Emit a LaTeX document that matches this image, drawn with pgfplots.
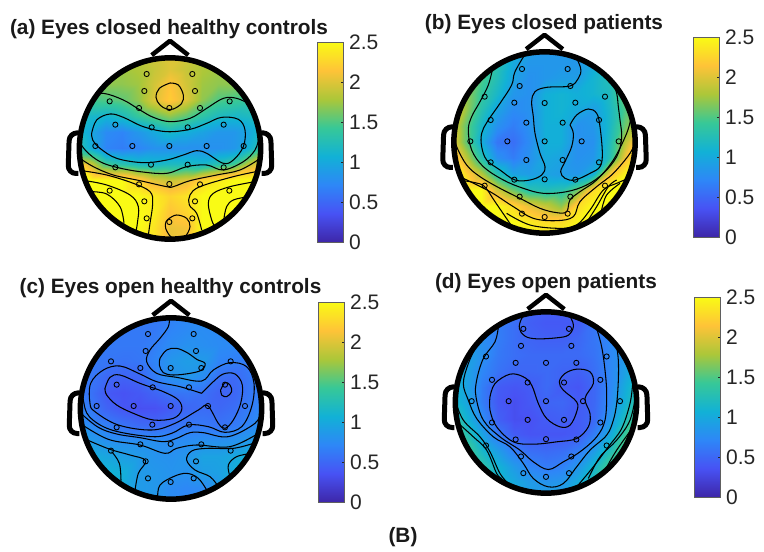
\documentclass[border=0pt]{standalone}
\usepackage{fontspec}
\setmainfont{Liberation Sans}
\usepackage{pgfplots}
\usepackage{pgfplotstable}
\pgfplotsset{compat=1.18}
\pgfplotsset{colormap={parula}{
 rgb(0)=(0.2422,0.1504,0.6603) rgb(1)=(0.2810,0.3228,0.9579) rgb(2)=(0.1786,0.5289,0.9682)
 rgb(3)=(0.0689,0.6948,0.8394) rgb(4)=(0.2161,0.7843,0.5923) rgb(5)=(0.6720,0.7793,0.2227)
 rgb(6)=(0.9970,0.7659,0.2199) rgb(7)=(0.9769,0.9839,0.0805)}}
\definecolor{tk}{RGB}{38,38,38}
\definecolor{bx}{RGB}{95,95,95}
\pgfplotstableread[row sep=\\,header=false]{
1.8\\1.8\\1.8\\1.8\\1.85\\1.95\\2.0\\1.95\\1.85\\1.8\\1.8\\1.8\\1.8\\
1.75\\1.75\\1.75\\1.75\\1.8\\1.9\\2.0\\1.9\\1.8\\1.75\\1.75\\1.75\\1.75\\
1.7\\1.7\\1.7\\1.7\\1.75\\1.95\\2.15\\1.95\\1.75\\1.7\\1.7\\1.7\\1.7\\
1.45\\1.45\\1.5\\1.55\\1.7\\2.0\\2.2\\2.0\\1.7\\1.5\\1.45\\1.4\\1.4\\
1.2\\1.15\\1.1\\1.2\\1.4\\1.55\\1.7\\1.55\\1.35\\1.2\\1.15\\1.2\\1.3\\
1.2\\1.0\\0.75\\0.7\\0.85\\1.0\\1.15\\1.05\\0.95\\0.85\\0.85\\1.0\\1.3\\
1.4\\1.05\\0.7\\0.65\\0.7\\0.8\\0.8\\0.8\\0.8\\0.8\\0.85\\1.1\\1.5\\
2.1\\1.95\\1.45\\1.3\\1.2\\1.15\\1.2\\1.2\\1.15\\1.3\\1.45\\1.9\\2.2\\
2.6\\2.55\\2.55\\2.5\\2.25\\2.0\\1.9\\2.0\\2.25\\2.4\\2.55\\2.6\\2.7\\
3.0\\3.0\\2.9\\2.8\\2.7\\2.4\\2.25\\2.35\\2.65\\2.8\\2.9\\3.0\\3.0\\
3.0\\3.0\\3.0\\2.9\\2.8\\2.42\\2.15\\2.25\\2.6\\2.9\\3.0\\3.0\\3.0\\
3.0\\3.0\\3.0\\2.9\\2.7\\2.35\\2.05\\2.1\\2.5\\2.9\\3.0\\3.0\\3.0\\
3.0\\3.0\\3.0\\2.9\\2.7\\2.35\\2.05\\2.1\\2.5\\2.9\\3.0\\3.0\\3.0\\
}\fieldA
\pgfplotstableread[row sep=\\,header=false]{
1.3\\1.3\\1.3\\1.25\\1.1\\0.95\\0.85\\0.85\\0.9\\1.1\\1.25\\1.3\\1.3\\
1.6\\1.6\\1.5\\1.3\\1.0\\0.85\\0.85\\0.85\\0.85\\1.0\\1.2\\1.5\\1.6\\
1.8\\1.7\\1.5\\1.25\\0.95\\0.8\\0.85\\0.9\\0.9\\1.1\\1.25\\1.6\\1.8\\
1.9\\1.75\\1.4\\1.15\\0.85\\0.8\\1.05\\1.1\\1.05\\1.1\\1.2\\1.6\\1.8\\
2.1\\1.75\\1.3\\0.95\\0.75\\0.8\\1.05\\1.1\\1.0\\0.9\\1.15\\1.5\\1.8\\
2.1\\1.6\\1.15\\0.8\\0.65\\0.8\\1.05\\1.05\\0.8\\0.85\\1.15\\1.6\\2.0\\
2.2\\1.6\\1.05\\0.6\\0.55\\0.75\\1.05\\1.05\\0.8\\0.8\\1.2\\1.85\\2.45\\
2.5\\1.9\\1.3\\0.8\\0.65\\0.8\\1.0\\0.95\\0.8\\0.85\\1.25\\2.1\\2.6\\
2.6\\2.3\\1.85\\1.3\\0.95\\0.9\\0.95\\0.9\\0.85\\1.05\\2.1\\2.45\\2.6\\
2.7\\2.6\\2.55\\1.95\\1.6\\1.3\\1.25\\1.3\\1.6\\2.3\\2.55\\2.7\\2.7\\
2.7\\2.7\\2.7\\2.6\\2.3\\2.05\\1.9\\1.7\\2.3\\2.6\\2.7\\2.7\\2.7\\
2.7\\2.7\\2.7\\2.7\\2.55\\2.4\\2.3\\2.3\\2.45\\2.7\\2.7\\2.7\\2.7\\
2.7\\2.7\\2.7\\2.7\\2.7\\2.7\\2.7\\2.7\\2.7\\2.7\\2.7\\2.7\\2.7\\
}\fieldB
\pgfplotstableread[row sep=\\,header=false]{
0.62\\0.62\\0.62\\0.62\\0.62\\0.62\\0.66\\0.72\\0.74\\0.72\\0.70\\0.68\\0.65\\
0.62\\0.62\\0.62\\0.62\\0.62\\0.62\\0.70\\0.74\\0.76\\0.74\\0.72\\0.70\\0.68\\
0.62\\0.62\\0.62\\0.62\\0.62\\0.66\\0.75\\0.80\\0.78\\0.75\\0.73\\0.72\\0.70\\
0.62\\0.62\\0.60\\0.58\\0.60\\0.70\\0.85\\0.90\\0.88\\0.70\\0.66\\0.66\\0.70\\
0.62\\0.60\\0.50\\0.47\\0.50\\0.65\\0.80\\0.85\\0.76\\0.56\\0.52\\0.62\\0.72\\
0.66\\0.57\\0.40\\0.36\\0.40\\0.48\\0.58\\0.60\\0.56\\0.47\\0.50\\0.62\\0.72\\
0.73\\0.62\\0.47\\0.38\\0.34\\0.35\\0.42\\0.50\\0.53\\0.50\\0.55\\0.65\\0.78\\
0.82\\0.72\\0.66\\0.58\\0.52\\0.50\\0.56\\0.62\\0.62\\0.58\\0.63\\0.72\\0.84\\
0.93\\0.88\\0.80\\0.78\\0.78\\0.78\\0.75\\0.77\\0.80\\0.80\\0.82\\0.88\\0.95\\
1.05\\1.05\\0.98\\0.92\\0.88\\0.82\\0.80\\0.84\\0.95\\0.95\\1.0\\1.1\\1.15\\
1.1\\1.1\\1.1\\1.05\\0.88\\0.85\\0.82\\0.80\\0.90\\0.93\\1.05\\1.2\\1.25\\
1.1\\1.1\\1.1\\1.02\\0.88\\0.85\\0.75\\0.72\\0.74\\0.9\\0.95\\1.1\\1.1\\
1.1\\1.1\\1.1\\1.0\\0.88\\0.85\\0.75\\0.72\\0.75\\0.9\\0.95\\1.0\\1.0\\
}\fieldC
\pgfplotstableread[row sep=\\,header=false]{
0.95\\0.9\\0.8\\0.7\\0.6\\0.5\\0.44\\0.44\\0.48\\0.6\\0.7\\0.85\\0.95\\
0.95\\0.9\\0.78\\0.66\\0.55\\0.44\\0.40\\0.40\\0.42\\0.6\\0.72\\0.85\\0.95\\
1.05\\0.9\\0.78\\0.65\\0.55\\0.48\\0.45\\0.45\\0.50\\0.6\\0.72\\0.86\\0.98\\
1.1\\0.95\\0.8\\0.62\\0.55\\0.52\\0.52\\0.52\\0.52\\0.58\\0.72\\0.88\\1.05\\
1.1\\0.95\\0.72\\0.58\\0.50\\0.50\\0.52\\0.48\\0.45\\0.55\\0.72\\0.95\\1.2\\
1.15\\0.95\\0.65\\0.42\\0.38\\0.42\\0.52\\0.42\\0.38\\0.50\\0.72\\1.05\\1.35\\
1.2\\0.98\\0.65\\0.40\\0.33\\0.40\\0.48\\0.50\\0.42\\0.50\\0.75\\1.1\\1.45\\
1.4\\1.1\\0.75\\0.45\\0.33\\0.35\\0.42\\0.45\\0.42\\0.52\\0.85\\1.25\\1.6\\
1.55\\1.3\\0.95\\0.62\\0.42\\0.37\\0.38\\0.38\\0.42\\0.65\\1.0\\1.45\\1.7\\
1.7\\1.5\\1.15\\0.9\\0.65\\0.55\\0.52\\0.55\\0.65\\0.9\\1.25\\1.6\\1.8\\
1.7\\1.6\\1.35\\1.1\\0.88\\0.7\\0.64\\0.68\\0.85\\1.15\\1.5\\1.7\\1.8\\
1.6\\1.5\\1.3\\1.15\\1.0\\0.88\\0.82\\0.85\\1.02\\1.25\\1.45\\1.6\\1.6\\
1.5\\1.4\\1.25\\1.1\\1.0\\0.95\\0.95\\0.95\\1.05\\1.2\\1.35\\1.45\\1.5\\
}\fieldD
\pgfplotsset{headaxis/.style n args={4}{
  at={(#1pt,552pt-#2pt)},anchor=center,scale only axis,width=230pt,height=230pt,
  xmin=#3-345,xmax=#3+345,ymin=#4-345,ymax=#4+345,y dir=reverse,
  hide axis,clip=false,colormap name=parula,point meta min=0,point meta max=2.5},
 baraxis/.style 2 args={at={(#1pt,552pt-#2pt)},anchor=south west,scale only axis,width=26pt,height=200pt,
  xmin=0,xmax=1,ymin=0,ymax=2.5,xtick=\empty,
  colormap name=parula,point meta min=0,point meta max=2.5,
  ytick={0,0.5,1,1.5,2,2.5},yticklabels={0,0.5,1,1.5,2,2.5},
  yticklabel pos=right,ytick pos=right,tick align=inside,major tick length=2.5pt,
  tick style={color=tk,line width=.5pt},axis line style={color=bx,line width=.7pt},axis on top,
  yticklabel style={font=\fontsize{21}{22}\selectfont,text=tk,inner sep=0pt,xshift=6pt}}}
\newcommand\cbar[2]{\begin{axis}[baraxis={#1}{#2}]
 \addplot[surf,shader=interp,mesh/cols=2,point meta=y,forget plot] coordinates {(0,0)(1,0)(0,2.5)(1,2.5)};
 \end{axis}}
\newcommand\field[3]{\addplot[surf,shader=interp,mesh/cols=13,point meta=explicit,forget plot]
  table[x index=0,y index=0,x expr={mod(\coordindex,13)*48+#1},y expr={floor(\coordindex/13)*48+#2},meta index=0]{#3};}
\newcommand\shell[2]{%
 \fill[white,even odd rule] (axis cs:#1-292,#2-292) rectangle (axis cs:#1+292,#2+292) (axis cs:#1,#2) circle[radius=272];
 \draw[line width=4.5pt,join=round] (axis cs:#1-55,#2-280) -- (axis cs:#1,#2-323) -- (axis cs:#1+55,#2-280);
 \draw[line width=5pt,rounded corners=8pt] (axis cs:#1-275,#2-47) -- (axis cs:#1-302,#2-47) -- (axis cs:#1-306,#2+75) -- (axis cs:#1-275,#2+75);
 \draw[line width=5pt,rounded corners=8pt] (axis cs:#1+275,#2-47) -- (axis cs:#1+302,#2-47) -- (axis cs:#1+306,#2+75) -- (axis cs:#1+275,#2+75);
 \draw[line width=5.5pt] (axis cs:#1,#2) circle[radius=272];}
\pgfplotsset{cl/.style={black,line width=1.05pt,smooth,tension=0.6,no markers,forget plot},
 el/.style={only marks,mark=o,mark size=2.6pt,mark options={black,line width=.85pt},forget plot}}
\begin{document}
\begin{tikzpicture}[x=1pt,y=1pt]
\useasboundingbox (0,0) rectangle (764,552);
% ---------- (a)
\begin{axis}[headaxis={170}{148.5}{510}{415.5}]
\field{222}{127.5}{\fieldA}
\addplot[cl] coordinates {(510,219)(535,225)(550,255)(545,280)(520,297)(500,297)(480,285)(468,262)(478,235)(510,219)};
\addplot[cl] coordinates {(262,258)(310,250)(370,270)(420,300)(460,322)(510,335)(570,325)(620,295)(670,265)(710,265)(755,285)};
\addplot[cl] coordinates {(275,370)(290,330)(330,312)(370,322)(430,350)(500,365)(570,358)(620,340)(665,322)(715,328)(735,360)(730,410)(700,450)(670,460)(620,430)(590,422)(550,435)(500,450)(430,458)(350,445)(300,415)(278,390)(275,370)};
\addplot[cl] coordinates {(238,395)(260,425)(300,455)(350,472)(420,485)(500,490)(560,470)(620,465)(670,480)(730,455)(765,420)(778,380)};
\addplot[cl] coordinates {(240,445)(280,470)(340,495)(420,512)(500,530)(520,530)(570,512)(650,495)(720,480)(778,447)};
\addplot[cl] coordinates {(245,482)(320,495)(400,520)(450,545)(458,580)(450,640)(445,675)};
\addplot[cl] coordinates {(255,512)(320,525)(390,555)(415,590)(412,640)(408,662)};
\addplot[cl] coordinates {(270,545)(320,552)(360,590)(372,640)};
\addplot[cl] coordinates {(778,483)(700,500)(600,530)(570,555)(568,585)(590,610)(605,660)};
\addplot[cl] coordinates {(765,515)(690,530)(640,550)(625,580)(635,630)(645,650)};
\addplot[cl] coordinates {(745,560)(700,570)(680,590)(672,625)};
\addplot[cl] coordinates {(508,625)(530,615)(560,625)(570,650)(555,680)(530,685)(512,680)(497,655)(498,635)(508,625)};
\shell{510}{415.5}
\addplot[el] coordinates {(440,192)(577,192)(433,243)(585,243)(329,274)(689,274)(417,294)(508,294)(600,294)(346,344)(455,352)(563,352)(671,344)(286,408)(397,408)(508,408)(620,408)(731,408)(346,472)(453,464)(563,464)(671,472)(417,523)(508,522)(600,523)(329,542)(688,542)(433,574)(585,574)(440,625)(508,636)(577,625)};
\end{axis}
\cbar{317}{242}
% ---------- (b)
\begin{axis}[headaxis={544.5}{142.5}{433.5}{397.5}]
\field{145.5}{109.5}{\fieldB}
\addplot[cl] coordinates {(520,125)(542,175)(535,205)(510,228)(440,232)(405,245)(395,275)(400,320)(405,370)(420,430)(435,470)(425,495)(390,510)(345,510)(300,480)(260,450)(245,410)(245,370)(262,335)(300,280)(335,225)(345,185)(380,125)};
\addplot[cl] coordinates {(510,345)(530,315)(565,297)(590,310)(600,350)(607,430)(600,470)(570,490)(525,510)(495,505)(482,485)(495,455)(515,410)(520,370)(510,345)};
\addplot[cl] coordinates {(278,175)(265,225)(240,275)(215,320)(205,360)(215,420)(250,470)(310,510)(370,535)(430,550)(500,545)(560,525)(610,490)(650,440)(665,385)(660,330)(655,290)(650,250)(635,205)};
\addplot[cl] coordinates {(695,315)(680,370)(640,450)(590,510)(540,545)(510,570)(500,605)(470,608)(420,595)(360,565)(300,535)(240,500)(200,465)(170,410)(163,375)};
\addplot[cl] coordinates {(708,390)(690,430)(640,490)(590,530)(540,575)(520,620)(470,632)(400,625)(340,590)(270,545)(190,505)};
\addplot[cl] coordinates {(188,512)(225,518)(254,530)(285,575)(335,648)};
\addplot[cl] coordinates {(320,610)(390,645)(480,655)(530,645)(570,600)(610,540)(650,520)(690,503)};
\addplot[cl] coordinates {(558,640)(590,590)(625,530)(650,510)};
\addplot[cl] coordinates {(605,600)(620,555)(660,520)};
\shell{433.5}{397.5}
\addplot[el] coordinates {(366,177)(503,177)(359,228)(511,228)(254,260)(615,260)(343,278)(434,279)(526,278)(272,330)(379,338)(488,338)(597,330)(211,394)(322,394)(434,394)(545,394)(656,394)(272,457)(379,450)(488,450)(597,457)(343,509)(434,508)(526,509)(254,527)(615,527)(359,560)(511,560)(366,611)(434,621)(503,611)};
\end{axis}
\cbar{693}{237}
% ---------- (c)
\begin{axis}[headaxis={171}{408.5}{513}{415.5}]
\field{225}{127.5}{\fieldC}
\addplot[cl] coordinates {(480,265)(500,240)(530,235)(565,250)(590,268)(615,280)(605,300)(570,310)(520,315)(490,308)(478,285)(480,265)};
\addplot[cl] coordinates {(605,370)(640,335)(670,312)(705,312)(727,345)(722,400)(700,450)(675,475)(655,460)(623,407)(595,420)(525,460)(455,480)(355,465)(285,425)(270,400)(272,340)(310,300)(360,288)(420,312)(470,335)(540,350)(605,370)};
\addplot[cl] coordinates {(315,355)(330,322)(360,315)(420,340)(490,365)(535,390)(545,420)(520,445)(460,450)(400,430)(350,405)(320,375)(315,355)};
\addplot[cl] coordinates {(662,360)(675,338)(690,345)(695,365)(680,380)(665,375)(662,360)};
\addplot[cl] coordinates {(247,345)(250,390)(268,440)(335,480)(455,500)(515,490)(565,465)(625,470)(675,487)(725,470)(755,410)(762,340)(740,290)(690,278)(640,300)(605,333)(530,322)(470,310)(440,275)(450,240)(480,205)(505,170)(508,143)};
\addplot[cl] coordinates {(245,432)(295,472)(350,492)(420,503)(490,515)(530,505)(570,488)(610,488)(685,500)(765,460)(782,425)};
\addplot[cl] coordinates {(243,462)(325,508)(420,525)(495,550)(530,535)(590,525)(690,530)(775,490)};
\addplot[cl] coordinates {(262,510)(330,538)(390,555)(437,572)(415,610)(405,662)};
\addplot[cl] coordinates {(335,545)(358,580)(363,632)};
\addplot[cl] coordinates {(760,520)(700,535)(620,535)(575,543)(560,570)(585,600)(630,620)(655,650)};
\addplot[cl] coordinates {(755,550)(710,560)(685,585)(690,620)};
\addplot[cl] coordinates {(473,680)(480,645)(520,620)(560,610)(595,625)(620,660)};
\shell{513}{415.5}
\addplot[el] coordinates {(444,192)(581,192)(437,243)(588,243)(333,274)(692,274)(421,294)(512,294)(604,294)(350,344)(458,352)(567,352)(675,344)(290,408)(401,408)(512,408)(624,408)(735,408)(350,472)(457,464)(567,464)(675,472)(421,523)(512,522)(604,523)(333,542)(692,542)(437,574)(588,574)(444,625)(512,636)(581,625)};
\end{axis}
\cbar{318}{502}
% ---------- (d)
\begin{axis}[headaxis={546}{402.5}{438}{397}]
\field{150}{109}{\fieldD}
\addplot[cl] coordinates {(385,124)(365,145)(358,175)(375,198)(410,206)(470,203)(505,195)(520,170)(512,142)(490,122)};
\addplot[cl] coordinates {(270,380)(285,340)(330,312)(370,320)(395,345)(415,400)(440,445)(480,470)(510,465)(530,425)(530,395)(490,360)(478,335)(495,310)(530,297)(570,305)(580,340)(555,385)(570,430)(565,470)(530,505)(470,515)(400,522)(340,515)(290,470)(270,420)(270,380)};
\addplot[cl] coordinates {(295,170)(285,215)(250,265)(230,330)(228,380)(250,450)(300,500)(360,540)(400,575)(445,598)(490,575)(540,545)(590,500)(615,450)(620,370)(615,300)(605,230)(590,175)};
\addplot[cl] coordinates {(230,225)(205,280)(190,340)(205,390)(230,445)(280,500)(330,530)(370,580)(400,625)(445,650)(490,640)(530,590)(570,540)(620,495)(640,450)(650,400)(655,330)(655,270)(650,230)};
\addplot[cl] coordinates {(165,390)(190,450)(240,500)(270,545)(300,610)(325,640)};
\addplot[cl] coordinates {(170,455)(220,500)(260,540)(290,610)(305,625)};
\addplot[cl] coordinates {(530,650)(580,590)(625,530)(665,475)(690,400)(698,340)};
\addplot[cl] coordinates {(565,625)(600,560)(650,510)(690,450)(708,370)};
\addplot[cl] coordinates {(615,600)(650,540)(700,470)};
\shell{438}{397}
\addplot[el] coordinates {(370,176)(507,176)(363,227)(514,227)(258,259)(620,259)(347,278)(438,278)(529,278)(276,329)(383,337)(492,337)(601,329)(215,393)(326,393)(438,393)(549,393)(660,393)(276,457)(383,449)(492,449)(601,457)(347,508)(438,507)(529,508)(258,526)(620,526)(363,559)(514,559)(370,609)(438,620)(507,609)};
\end{axis}
\cbar{694}{497}
\def\ttl{\fontsize{20.8}{22}\selectfont\bfseries}
\node[font=\ttl,text=black!90] at (169,552-29) {(a) Eyes closed healthy controls};
\node[font=\ttl,text=black!90] at (544,552-24) {(b) Eyes closed patients};
\node[font=\ttl,text=black!90] at (170.5,552-288) {(c) Eyes open healthy controls};
\node[font=\ttl,text=black!90] at (546,552-283) {(d) Eyes open patients};
\node[font=\ttl,text=black!90] at (403,552-537) {(B)};
\end{tikzpicture}
\end{document}
